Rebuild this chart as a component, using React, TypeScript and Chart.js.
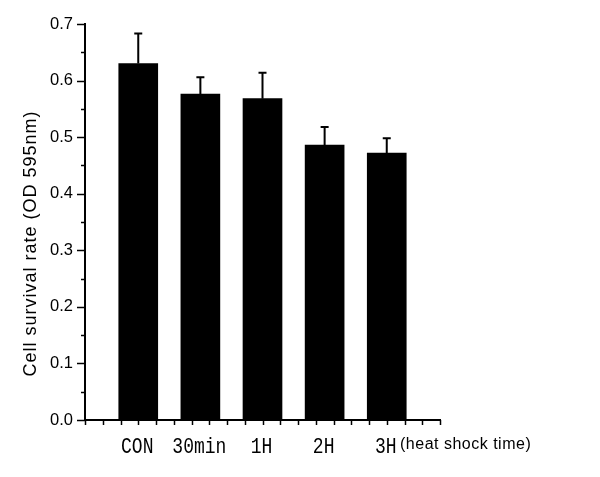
import React, { useEffect, useRef } from "react";
import { Chart, registerables } from "chart.js";

Chart.register(...registerables);

const categories = ["CON", "30min", "1H", "2H", "3H"];
const slots = [3, 6.5, 10, 13.5, 17];
const means = [0.63, 0.576, 0.568, 0.486, 0.472];
const errors = [0.053, 0.03, 0.046, 0.032, 0.026];
const yTitle = "Cell survival rate (OD 595nm)";
const xNote = "(heat shock time)";

const decorPlugin = {
  id: "decor",
  afterDatasetsDraw(chart: any) {
    const ctx = chart.ctx as CanvasRenderingContext2D;
    const xs = chart.scales.x;
    const ys = chart.scales.y;
    const meta = chart.getDatasetMeta(0);
    ctx.save();
    ctx.strokeStyle = "#000";
    ctx.fillStyle = "#000";
    ctx.lineWidth = 2;
    // error bars
    meta.data.forEach((el: any, i: number) => {
      const top = ys.getPixelForValue(means[i] + errors[i]);
      ctx.beginPath();
      ctx.moveTo(el.x, el.y);
      ctx.lineTo(el.x, top);
      ctx.moveTo(el.x - 4, top);
      ctx.lineTo(el.x + 4, top);
      ctx.stroke();
    });
    // y ticks
    const axisX = chart.chartArea.left;
    ys.ticks.forEach((t: any) => {
      const major = Math.abs(t.value * 10 - Math.round(t.value * 10)) < 1e-6;
      const py = Math.round(ys.getPixelForValue(t.value)) + 0.5;
      ctx.beginPath();
      ctx.lineWidth = 1.5;
      ctx.moveTo(axisX, py);
      ctx.lineTo(axisX - (major ? 8 : 4), py);
      ctx.stroke();
    });
    // x ticks
    const axisY = chart.chartArea.bottom;
    xs.ticks.forEach((t: any) => {
      const px = Math.round(xs.getPixelForValue(t.value)) + 0.5;
      ctx.beginPath();
      ctx.lineWidth = 1.5;
      ctx.moveTo(px, axisY);
      ctx.lineTo(px, axisY + 5);
      ctx.stroke();
    });
    // category labels
    ctx.font = '18px "Liberation Mono"';
    ctx.textAlign = "center";
    ctx.textBaseline = "alphabetic";
    meta.data.forEach((el: any, i: number) => {
      ctx.save();
      ctx.translate(el.x - 1, 453);
      ctx.scale(1, 1.18);
      ctx.fillText(categories[i], 0, 0);
      ctx.restore();
    });
    // x note
    ctx.font = '16px "Liberation Sans"';
    (ctx as any).letterSpacing = "0.5px";
    ctx.textAlign = "left";
    ctx.fillText(xNote, 400, 449);
    // y title
    ctx.font = '18px "Liberation Sans"';
    (ctx as any).letterSpacing = "1px";
    ctx.translate(36, 243.5);
    ctx.rotate(-Math.PI / 2);
    ctx.textAlign = "center";
    ctx.fillText(yTitle, 0, 0);
    ctx.restore();
  },
};

export default function App() {
  const ref = useRef<HTMLCanvasElement | null>(null);
  useEffect(() => {
    if (!ref.current) return;
    const chart = new Chart(ref.current, {
      type: "bar",
      data: {
        datasets: [
          {
            data: means.map((v, i) => ({ x: slots[i], y: v })),
            backgroundColor: "#000",
            borderWidth: 0,
            barThickness: 39,
          },
        ],
      },
      options: {
        animation: false,
        responsive: false,
        devicePixelRatio: 1,
        layout: { padding: { left: 0, top: 24, right: 160, bottom: 0 } },
        plugins: { legend: { display: false }, tooltip: { enabled: false } },
        scales: {
          x: {
            type: "linear",
            min: 0,
            max: 20,
            offset: false,
            ticks: { display: false, stepSize: 1 },
            grid: { display: false, drawTicks: false },
            border: { display: true, color: "#000", width: 2 },
            afterFit(s: any) {
              s.height = 57;
            },
          },
          y: {
            min: 0,
            max: 0.7,
            ticks: {
              stepSize: 0.05,
              autoSkip: false,
              color: "#000",
              padding: 4,
              font: { family: '"Liberation Sans"', size: 16.5 },
              callback: (v: any) =>
                Math.abs(v * 10 - Math.round(v * 10)) < 1e-6 ? Number(v).toFixed(1) : "",
            },
            grid: { display: false, drawTicks: true, tickLength: 8 },
            border: { display: true, color: "#000", width: 2 },
            afterFit(s: any) {
              s.width = 85;
            },
          },
        },
      },
      plugins: [decorPlugin],
    } as any);
    return () => chart.destroy();
  }, []);
  return (
    <div style={{ position: "absolute", left: 0, top: 0, width: 600, height: 477, background: "#fff" }}>
      <canvas ref={ref} width={600} height={477} style={{ width: 600, height: 477 }} />
    </div>
  );
}
